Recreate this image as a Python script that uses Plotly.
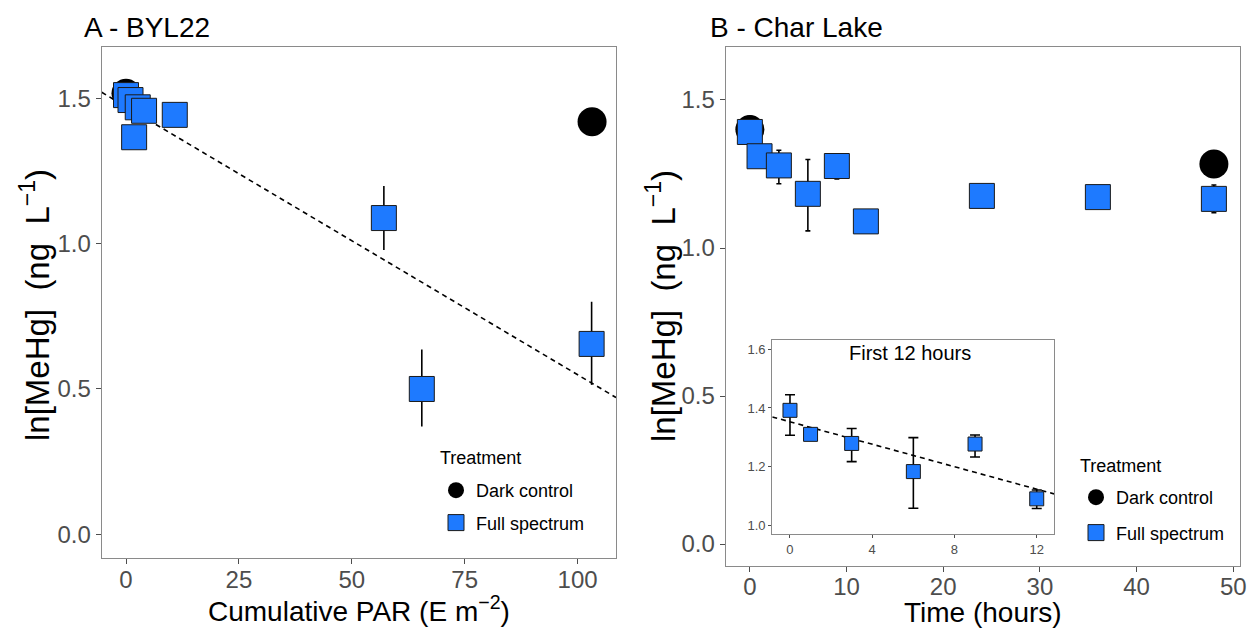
import plotly.graph_objects as go

# ---------------- data ----------------
# Panel A - BYL22 (x = cumulative PAR, E m-2)
darkA_x = [0, 103.2]
darkA_y = [1.517, 1.419]
fullA_x = [0, 1.0, 1.8, 2.6, 4.0, 10.8, 57.1, 65.5, 103.1]
fullA_y = [1.511, 1.494, 1.366, 1.469, 1.457, 1.443, 1.088, 0.500, 0.655]
fullA_hi = [None, None, None, None, None, None, 1.198, 0.636, 0.800]
fullA_lo = [None, None, None, None, None, None, 0.978, 0.371, 0.514]
fitA = {"intercept": 1.471, "slope": -0.00922}

# Panel B - Char Lake (x = time, hours)
darkB_x = [0, 48]
darkB_y = [1.400, 1.284]
fullB_x = [0, 1, 3, 6, 9, 12, 24, 36, 48]
fullB_y = [1.392, 1.310, 1.279, 1.183, 1.277, 1.090, 1.176, 1.172, 1.166]
fullB_hi = [1.445, None, 1.330, 1.299, 1.308, 1.120, None, None, 1.213]
fullB_lo = [1.307, None, 1.217, 1.058, 1.233, 1.057, None, None, 1.119]
fitB = {"intercept": 1.353, "slope": -0.01917}
inset_max_t = 12

xticksA = [0, 25, 50, 75, 100]
xticksB = [0, 10, 20, 30, 40, 50]
yticks = [0.0, 0.5, 1.0, 1.5]
xticksI = [0, 4, 8, 12]
yticksI = [1.0, 1.2, 1.4, 1.6]

# ---------------- style ----------------
FONT = "Liberation Sans, Arial, sans-serif"
BLUE = "#1E7AFF"
EDGE = "#1a1a1a"
BORDER = "#8a8a8a"
TICKC = "#4D4D4D"
W, H = 1251, 628
NB = "\u00a0"

rangeA_x = [-5.38, 108.5]
rangeA_y = [-0.0805, 1.6775]
rangeB_x = [-2.5, 50.7]
rangeB_y = [-0.073, 1.680]
rangeI_x = [-0.86, 12.84]
rangeI_y = [0.969, 1.632]


def errs(y, hi, lo):
    plus = [(h - v) if h is not None else 0 for v, h in zip(y, hi)]
    minus = [(v - l) if l is not None else 0 for v, l in zip(y, lo)]
    return plus, minus


fig = go.Figure()

# ---- Panel A ----
fig.add_trace(go.Scatter(
    x=[rangeA_x[0], rangeA_x[1]],
    y=[fitA["intercept"] + fitA["slope"] * rangeA_x[0], fitA["intercept"] + fitA["slope"] * rangeA_x[1]],
    mode="lines", line=dict(color="black", width=1.6, dash="5px,4px"),
    showlegend=False, hoverinfo="skip", xaxis="x", yaxis="y"))
fig.add_trace(go.Scatter(
    x=darkA_x, y=darkA_y, mode="markers", name="Dark control", legendgroup="a1",
    marker=dict(symbol="circle", size=29, color="black", line=dict(color="black", width=0)),
    xaxis="x", yaxis="y", legend="legend"))
pA, mA = errs(fullA_y, fullA_hi, fullA_lo)
fig.add_trace(go.Scatter(
    x=fullA_x, y=fullA_y, mode="markers", name="Full spectrum", legendgroup="a2",
    marker=dict(symbol="square", size=25, color=BLUE, line=dict(color=EDGE, width=1)),
    error_y=dict(type="data", symmetric=False, array=pA, arrayminus=mA,
                 color="black", thickness=1.6, width=0),
    xaxis="x", yaxis="y", legend="legend"))

# ---- Panel B ----
fig.add_trace(go.Scatter(
    x=darkB_x, y=darkB_y, mode="markers", name="Dark control", legendgroup="b1",
    marker=dict(symbol="circle", size=29, color="black", line=dict(color="black", width=0)),
    xaxis="x2", yaxis="y2", legend="legend2"))
pB, mB = errs(fullB_y, fullB_hi, fullB_lo)
fig.add_trace(go.Scatter(
    x=fullB_x, y=fullB_y, mode="markers", name="Full spectrum", legendgroup="b2",
    marker=dict(symbol="square", size=25, color=BLUE, line=dict(color=EDGE, width=1)),
    error_y=dict(type="data", symmetric=False, array=pB, arrayminus=mB,
                 color="black", thickness=1.6, width=2.5),
    xaxis="x2", yaxis="y2", legend="legend2"))

# ---- Inset (first 12 hours) ----
fig.add_trace(go.Scatter(
    x=[rangeI_x[0], rangeI_x[1]],
    y=[fitB["intercept"] + fitB["slope"] * rangeI_x[0], fitB["intercept"] + fitB["slope"] * rangeI_x[1]],
    mode="lines", line=dict(color="black", width=1.6, dash="5px,4px"),
    showlegend=False, hoverinfo="skip", xaxis="x3", yaxis="y3"))
idx = [i for i, t in enumerate(fullB_x) if t <= inset_max_t]
pI = [pB[i] for i in idx]
mI = [mB[i] for i in idx]
fig.add_trace(go.Scatter(
    x=[fullB_x[i] for i in idx], y=[fullB_y[i] for i in idx], mode="markers",
    marker=dict(symbol="square", size=14, color=BLUE, line=dict(color=EDGE, width=1)),
    error_y=dict(type="data", symmetric=False, array=pI, arrayminus=mI,
                 color="black", thickness=1.6, width=5),
    showlegend=False, xaxis="x3", yaxis="y3"))


def ax(domain, rng, ticks, anchor, size, fmt=None, ticklen=5, standoff=0):
    d = dict(domain=domain, range=rng, tickvals=ticks, anchor=anchor,
             automargin=False,
             showgrid=False, zeroline=False, showline=True, linecolor=BORDER,
             linewidth=1.2, mirror=True, ticks="outside", ticklen=ticklen,
             tickcolor=TICKC, tickwidth=1.2, ticklabelstandoff=standoff,
             tickfont=dict(family=FONT, size=size, color=TICKC))
    if fmt:
        d["tickformat"] = fmt
    return d


domA_x = [101.7 / W, 616 / W]
domA_y = [1 - 557.7 / H, 1 - 46.7 / H]
domB_x = [725.7 / W, 1240 / W]
domB_y = [1 - 565.7 / H, 1 - 46.7 / H]
domI_x = [772.3 / W, 1054 / W]
domI_y = [1 - 534.3 / H, 1 - 340 / H]

legend_common = dict(
    bgcolor="rgba(0,0,0,0)", borderwidth=0, xanchor="left", yanchor="top",
    font=dict(family=FONT, size=18, color="black"), itemsizing="trace")

fig.update_layout(
    template="none",
    width=W, height=H, margin=dict(l=0, r=0, t=0, b=0, autoexpand=False),
    paper_bgcolor="white", plot_bgcolor="white",
    font=dict(family=FONT),
    xaxis=ax(domA_x, rangeA_x, xticksA, "y", 24, standoff=-5),
    yaxis=ax(domA_y, rangeA_y, yticks, "x", 24, ".1f"),
    xaxis2=ax(domB_x, rangeB_x, xticksB, "y2", 24, standoff=-6),
    yaxis2=ax(domB_y, rangeB_y, yticks, "x2", 24, ".1f"),
    xaxis3=ax(domI_x, rangeI_x, xticksI, "y3", 13, ticklen=3),
    yaxis3=ax(domI_y, rangeI_y, yticksI, "x3", 13, ".1f", ticklen=3),
    legend=dict(x=436 / W, y=1 - 472 / H, tracegroupgap=6, **legend_common),
    legend2=dict(x=1076 / W, y=1 - 479 / H, tracegroupgap=9, **legend_common),
)

ytitle = f"ln[MeHg]{NB}{NB}(ng{NB}{NB}L<sup>−1</sup>)"
ann_font = dict(family=FONT, color="black")
annotations = [
    dict(text="A - BYL22", x=82 / W, y=1 - 28 / H, xanchor="left", yanchor="middle",
         font=dict(size=28, **ann_font)),
    dict(text="B - Char Lake", x=708 / W, y=1 - 28 / H, xanchor="left", yanchor="middle",
         font=dict(size=28, **ann_font)),
    dict(text=ytitle, x=35 / W, y=1 - 305 / H, textangle=-90,
         xanchor="center", yanchor="middle", font=dict(size=33, **ann_font)),
    dict(text=ytitle, x=661 / W, y=1 - 306 / H, textangle=-90,
         xanchor="center", yanchor="middle", font=dict(size=33, **ann_font)),
    dict(text="Cumulative PAR (E m<sup>−2</sup>)", x=359 / W, y=1 - 609 / H,
         xanchor="center", yanchor="middle", font=dict(size=28, **ann_font)),
    dict(text="Time (hours)", x=983 / W, y=1 - 612 / H,
         xanchor="center", yanchor="middle", font=dict(size=28, **ann_font)),
    dict(text="First 12 hours", x=910 / W, y=1 - 353 / H,
         xanchor="center", yanchor="middle", font=dict(size=20, **ann_font)),
    dict(text="Treatment", x=438 / W, y=1 - 458 / H, xanchor="left", yanchor="middle",
         font=dict(size=18, **ann_font)),
    dict(text="Treatment", x=1078 / W, y=1 - 466 / H, xanchor="left", yanchor="middle",
         font=dict(size=18, **ann_font)),
]
for a in annotations:
    a.update(xref="paper", yref="paper", showarrow=False)
fig.update_layout(annotations=annotations)

fig.write_html("out.html")
